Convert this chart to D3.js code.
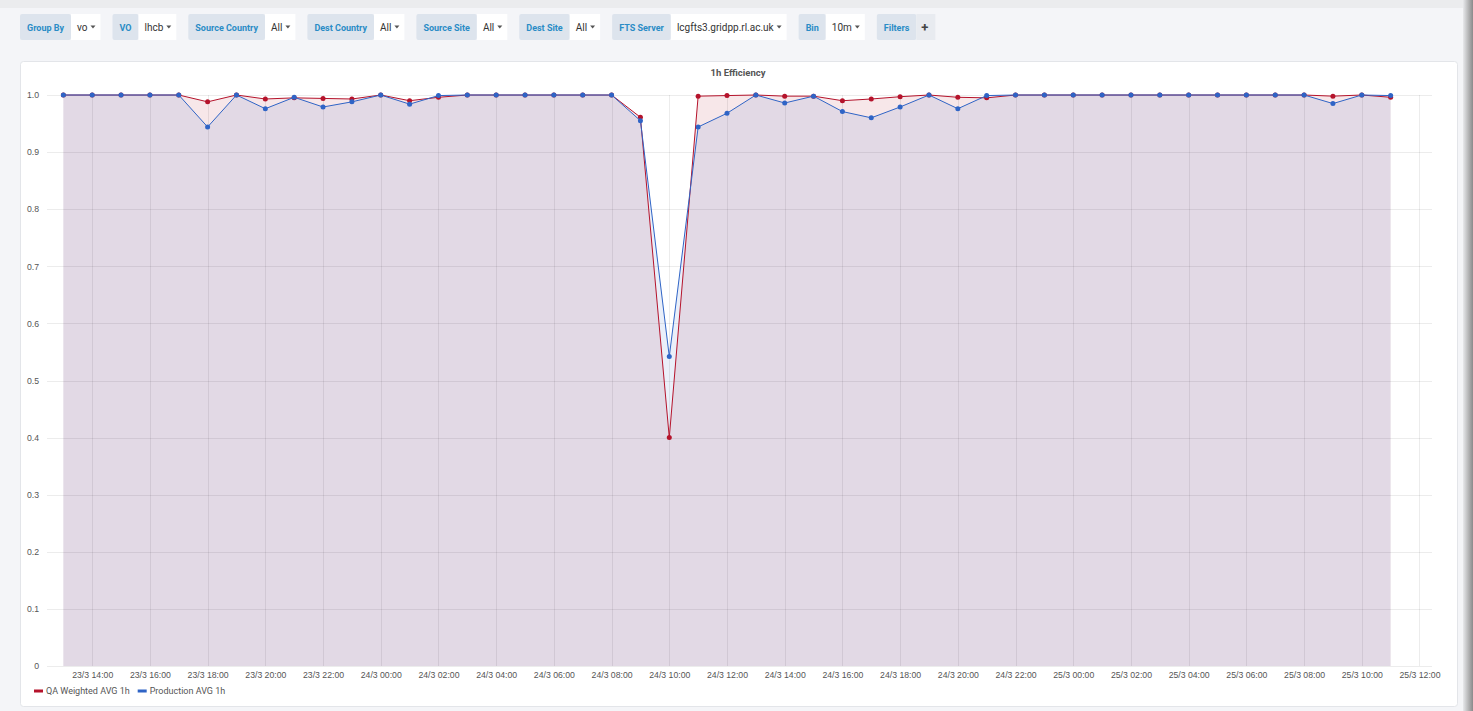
<!DOCTYPE html>
<meta charset="utf-8">
<style>
body { margin: 0; background: #f4f5f8; overflow: hidden; }
svg { display: block; font-family: Roboto, "Noto Sans", sans-serif; }
.grid line { stroke: #000; stroke-opacity: 0.075; shape-rendering: crispEdges; }
.grid path { display: none; }
.tick text { fill: #555; font-size: 8.7px; }
.ctl-label { fill: #2a8cc6; font-size: 9px; font-weight: 700; }
.ctl-value { fill: #333; font-size: 10px; }
</style>

<svg id="page" width="1473" height="711"></svg>

<script src="https://d3js.org/d3.v7.min.js"></script>
<script>
// toolbar controls
var controls = [
  {label: "Group By", value: "vo"},
  {label: "VO", value: "lhcb"},
  {label: "Source Country", value: "All"},
  {label: "Dest Country", value: "All"},
  {label: "Source Site", value: "All"},
  {label: "Dest Site", value: "All"},
  {label: "FTS Server", value: "lcgfts3.gridpp.rl.ac.uk"},
  {label: "Bin", value: "10m"},
  {label: "Filters", value: "+"}
];

// hourly bins
var times = [
  "23/3 13:00","23/3 14:00","23/3 15:00","23/3 16:00","23/3 17:00","23/3 18:00",
  "23/3 19:00","23/3 20:00","23/3 21:00","23/3 22:00","23/3 23:00",
  "24/3 00:00","24/3 01:00","24/3 02:00","24/3 03:00","24/3 04:00","24/3 05:00",
  "24/3 06:00","24/3 07:00","24/3 08:00","24/3 09:00","24/3 10:00","24/3 11:00",
  "24/3 12:00","24/3 13:00","24/3 14:00","24/3 15:00","24/3 16:00","24/3 17:00",
  "24/3 18:00","24/3 19:00","24/3 20:00","24/3 21:00","24/3 22:00","24/3 23:00",
  "25/3 00:00","25/3 01:00","25/3 02:00","25/3 03:00","25/3 04:00","25/3 05:00",
  "25/3 06:00","25/3 07:00","25/3 08:00","25/3 09:00","25/3 10:00","25/3 11:00"
];

var qaWeighted = [
  1, 1, 1, 1, 1, 0.988, 1, 0.993, 0.995, 0.994, 0.993,
  1, 0.990, 0.996, 1, 1, 1, 1, 1, 1, 0.961, 0.400, 0.998,
  0.999, 1, 0.998, 0.998, 0.990, 0.993, 0.997, 1, 0.996, 0.995, 1, 1,
  1, 1, 1, 1, 1, 1, 1, 1, 1, 0.998, 1, 0.996
];

var production = [
  1, 1, 1, 1, 1, 0.944, 1, 0.976, 0.996, 0.979, 0.988,
  1, 0.984, 0.999, 1, 1, 1, 1, 1, 1, 0.955, 0.542, 0.944,
  0.968, 1, 0.986, 0.998, 0.971, 0.960, 0.979, 1, 0.976, 0.999, 1, 1,
  1, 1, 1, 1, 1, 1, 1, 1, 1, 0.985, 1, 0.999
];

var seriesNames = ["QA Weighted AVG 1h", "Production AVG 1h"];
var seriesColors = ["#b5132b", "#2f64c6"];
var timeRange = ["23/3 12:26", "25/3 12:26"];
var yTicks = [0, 0.1, 0.2, 0.3, 0.4, 0.5, 0.6, 0.7, 0.8, 0.9, 1.0];

var parseTime = d3.timeParse("%d/%m %H:%M");

var svg = d3.select("#page");

// page edges
var defs = svg.append("defs");
var grad = defs.append("linearGradient").attr("id", "edge").attr("x1", 0).attr("x2", 1);
grad.append("stop").attr("offset", 0).attr("stop-color", "#e8e9ec");
grad.append("stop").attr("offset", 1).attr("stop-color", "#8a8a8a");
svg.append("rect").attr("width", 1473).attr("height", 8).attr("fill", "#ebecee");
svg.append("rect").attr("x", 1463).attr("width", 10).attr("height", 711).attr("fill", "url(#edge)");

// toolbar
var tb = svg.append("g").attr("transform", "translate(20,14)");
var cx = 0;
controls.forEach(function(c) {
  var g = tb.append("g").attr("transform", "translate(" + cx + ",0)");
  var lr = g.append("rect").attr("height", 26).attr("fill", "#dde4ed").attr("rx", 2);
  var lt = g.append("text").attr("class", "ctl-label").attr("x", 7).attr("y", 16.5).text(c.label);
  var lw = lt.node().getComputedTextLength() + 14;
  lr.attr("width", lw);
  var vr = g.append("rect").attr("x", lw).attr("height", 26).attr("fill", "#fff");
  var vw;
  if (c.value === "+") {
    g.append("text").attr("x", lw + 5).attr("y", 17.5).attr("fill", "#444")
      .style("font-size", "13px").style("font-weight", 700).text("+");
    vw = 19;
    vr.attr("fill", "#e8ebf0");
  } else {
    var vt = g.append("text").attr("class", "ctl-value").attr("x", lw + 6).attr("y", 17).text(c.value);
    var tw = vt.node().getComputedTextLength();
    g.append("path")
      .attr("d", "M" + (lw + 9 + tw) + ",11.5 l5,0 l-2.5,3z")
      .attr("fill", "#555");
    vw = tw + 19;
  }
  vr.attr("width", vw);
  cx += lw + vw + 12;
});

// panel
svg.append("rect")
  .attr("x", 20.5).attr("y", 61.5).attr("width", 1437).attr("height", 645)
  .attr("rx", 3).attr("fill", "#fff").attr("stroke", "#e3e5e9");

svg.append("text")
  .attr("x", 738).attr("y", 75.5)
  .attr("text-anchor", "middle")
  .attr("fill", "#555").style("font-size", "9.5px").style("font-weight", 700)
  .text("1h Efficiency");

var margin = {left: 47, top: 95},
    width = 1385,
    height = 571;

var g = svg.append("g").attr("transform", "translate(" + margin.left + "," + margin.top + ")");

var x = d3.scaleTime().domain(timeRange.map(parseTime)).range([0, width]);
var y = d3.scaleLinear().domain([0, 1]).range([height, 0]);

var hourTicks = d3.timeHour.every(2);

var series = [qaWeighted, production].map(function(vals, i) {
  return {
    name: seriesNames[i],
    color: seriesColors[i],
    values: vals.map(function(v, j) { return {t: parseTime(times[j]), v: v}; })
  };
});

var area = d3.area()
  .x(function(d) { return x(d.t); })
  .y0(y(0))
  .y1(function(d) { return y(d.v); });

var line = d3.line()
  .x(function(d) { return x(d.t); })
  .y(function(d) { return y(d.v); });

// fills
series.forEach(function(s) {
  g.append("path").datum(s.values)
    .attr("d", area)
    .attr("fill", s.color)
    .attr("fill-opacity", 0.1);
});

// grid
g.append("g").attr("class", "grid")
  .call(d3.axisLeft(y).tickValues(yTicks).tickSize(-width).tickFormat(""));
g.append("g").attr("class", "grid")
  .call(d3.axisBottom(x).ticks(hourTicks).tickSize(height).tickFormat(""));

// lines + points
series.forEach(function(s) {
  g.append("path").datum(s.values)
    .attr("d", line)
    .attr("fill", "none")
    .attr("stroke", s.color)
    .attr("stroke-width", 1);
  g.selectAll(null).data(s.values).enter().append("circle")
    .attr("cx", function(d) { return x(d.t); })
    .attr("cy", function(d) { return y(d.v); })
    .attr("r", 2.5)
    .attr("fill", s.color);
});

// axes
var xAxis = g.append("g")
  .attr("transform", "translate(0," + height + ")")
  .call(d3.axisBottom(x).ticks(hourTicks).tickSize(0).tickPadding(6)
    .tickFormat(d3.timeFormat("%-d/%-m %H:%M")));
xAxis.select(".domain").remove();

var yAxis = g.append("g")
  .call(d3.axisLeft(y).tickValues(yTicks).tickSize(0).tickPadding(8)
    .tickFormat(function(d) { return d === 0 ? "0" : d3.format(".1f")(d); }));
yAxis.select(".domain").remove();

// legend
var lg = svg.append("g").attr("transform", "translate(34,691)");
var lx = 0;
series.forEach(function(s) {
  var item = lg.append("g").attr("transform", "translate(" + lx + ",0)");
  item.append("rect").attr("y", -1.5).attr("width", 9).attr("height", 3).attr("fill", s.color);
  var t = item.append("text").attr("x", 12).attr("dy", "0.35em")
    .attr("fill", "#555").style("font-size", "9px").text(s.name);
  lx += 12 + t.node().getComputedTextLength() + 8;
});
</script>
